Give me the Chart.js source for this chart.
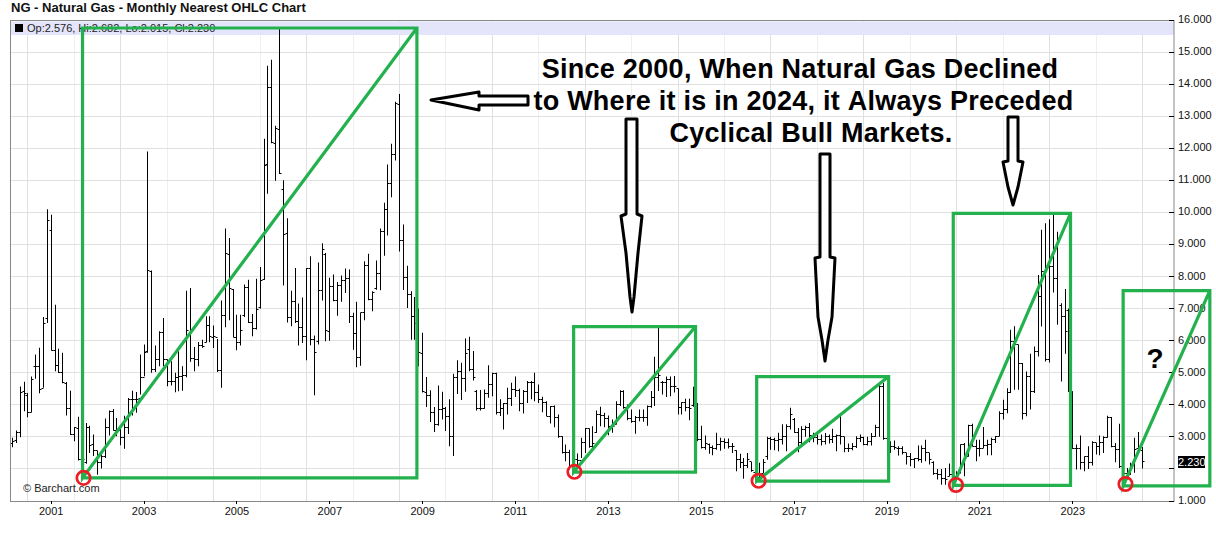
<!DOCTYPE html>
<html>
<head>
<meta charset="utf-8">
<title>NG - Natural Gas - Monthly Nearest OHLC Chart</title>
<script src="https://cdn.jsdelivr.net/npm/chart.js@4/dist/chart.umd.min.js"></script>
<style>
  html, body { margin: 0; padding: 0; background: #fff; }
  canvas { display: block; }
</style>
</head>
<body>
<canvas id="chart" width="1216" height="542"></canvas>
<script>
// monthly bars, index 0 = Mar 2000, last = Jul 2024
const highs = [
  2.97,3.2,4.57,4.72,4.37,4.88,5.57,5.78,6.74,10.1,
  9.93,7.12,5.75,5.62,4.71,4.44,3.3,3.63,2.55,3.43,3.35,3.07,
  2.57,2.52,3.57,3.82,3.87,3.59,3.36,3.66,4.21,4.44,4.4,5.57,
  5.88,11.9,8.19,5.85,6.29,6.71,5.41,5.36,5.0,5.67,5.2,7.56,
  7.64,5.8,5.96,6.03,6.76,6.76,6.47,6.05,7.25,9.5,9.2,7.61,
  6.81,6.81,7.75,7.9,6.83,7.93,8.3,12.3,14.57,14.76,12.7,15.75,
  11.0,9.82,7.56,8.27,7.16,7.35,8.27,8.63,6.16,8.44,9.04,8.73,
  7.96,8.06,7.83,8.03,8.25,8.22,6.87,7.21,6.87,8.48,8.71,7.54,
  8.5,9.5,10.3,11.49,12.14,13.45,13.69,9.62,8.34,7.54,7.36,7.0,
  6.25,4.87,4.45,3.93,4.6,4.41,3.93,4.17,4.97,5.39,5.31,6.07,
  6.12,5.68,4.46,4.46,4.48,5.23,5.0,5.0,4.17,4.06,4.53,4.69,
  4.88,4.5,4.46,4.74,4.74,5.0,4.63,4.25,4.11,3.96,3.98,3.7,
  3.02,2.76,2.6,2.3,2.48,2.97,3.28,3.26,3.33,3.82,3.94,3.75,
  3.67,3.54,4.11,4.45,4.45,4.01,3.85,3.65,3.85,3.85,3.98,4.43,
  5.5,6.41,4.74,4.88,4.88,4.9,4.5,4.08,4.19,4.19,4.56,4.06,
  3.35,3.04,2.79,2.73,3.13,2.97,2.95,2.95,2.81,2.58,2.47,2.34,
  2.5,2.22,1.96,2.19,2.31,3.0,3.0,2.97,3.13,3.39,3.39,3.91,
  3.59,3.28,3.33,3.35,3.43,3.13,3.12,3.07,3.12,3.07,3.25,3.07,
  3.64,3.0,2.79,2.81,3.02,3.07,3.0,3.0,3.12,3.38,4.7,4.68,
  2.94,2.86,2.89,2.71,2.71,2.5,2.5,2.34,2.73,2.73,2.91,2.5,
  2.24,2.0,2.0,2.03,2.17,1.95,1.93,2.76,2.81,3.38,3.41,2.91,
  2.91,3.31,2.91,2.97,3.02,3.8,4.16,4.52,6.34,6.45,5.87,5.3,
  5.04,5.59,5.82,8.05,9.46,9.66,9.79,9.92,9.4,7.17,7.61,7.0,
  4.42,2.76,3.04,2.39,2.71,2.86,2.81,3.04,3.02,3.66,3.62,2.81,
  3.41,2.15,2.03,2.19,2.97,3.15,2.682
];
const lows = [
  2.68,2.81,2.99,3.8,3.61,3.77,4.81,4.36,4.53,6.55,
  5.69,5.05,4.99,4.67,3.67,3.06,2.86,2.26,1.83,2.16,2.5,2.4,
  1.82,2.01,2.34,3.04,3.2,3.02,2.74,2.63,3.09,3.67,3.75,4.32,
  4.89,5.62,5.0,5.02,5.2,5.2,4.58,4.6,4.39,4.42,4.44,4.86,
  5.34,5.05,5.2,5.78,5.95,5.95,5.77,5.02,4.53,6.42,6.64,6.11,
  5.7,5.85,6.74,6.55,6.14,6.35,7.0,7.9,10.58,12.16,10.99,11.2,
  7.72,6.57,6.45,6.55,5.85,5.93,5.39,5.86,4.3,5.88,7.25,5.98,
  6.0,7.23,6.78,7.21,7.49,6.55,5.72,5.17,5.22,6.64,7.26,6.92,
  7.59,7.57,8.65,9.28,10.47,11.62,8.78,7.58,7.02,6.03,6.03,5.2,
  4.38,3.93,3.46,3.15,3.35,3.54,3.18,2.71,2.4,4.34,4.15,4.41,
  5.05,4.76,3.82,3.82,3.88,4.22,4.27,3.7,3.65,3.23,3.7,3.96,
  4.24,3.8,3.73,4.06,4.17,4.11,4.06,3.77,3.65,3.42,3.3,2.97,
  2.48,2.24,1.98,1.9,2.08,2.34,2.5,2.66,2.55,3.13,3.33,3.3,
  3.05,3.13,3.39,3.96,3.88,3.52,3.44,3.1,3.49,3.47,3.35,3.91,
  3.96,4.43,4.32,4.24,4.27,4.38,3.7,3.7,3.8,3.52,3.94,2.86,
  2.64,2.6,2.47,2.43,2.6,2.57,2.63,2.64,2.5,1.93,2.03,1.69,
  2.03,1.91,1.61,1.72,1.87,2.29,2.6,2.58,2.55,2.76,2.55,3.23,
  3.13,2.52,2.76,3.0,2.83,2.83,2.76,2.73,2.76,2.79,2.81,2.55,
  2.76,2.52,2.53,2.58,2.65,2.84,2.74,2.73,2.73,3.0,3.0,2.91,
  2.37,2.5,2.6,2.42,2.45,2.14,2.08,2.03,2.24,2.19,2.24,2.14,
  1.82,1.67,1.51,1.51,1.77,1.48,1.62,1.87,1.77,2.39,2.71,2.24,
  2.39,2.65,2.43,2.43,2.81,3.02,3.54,3.74,4.37,4.47,4.47,3.54,
  3.64,3.85,4.37,5.51,6.44,5.35,5.32,7.5,6.5,4.73,5.59,4.4,
  2.62,1.98,1.98,1.93,2.0,2.11,2.45,2.43,2.5,2.97,2.68,2.21,
  2.03,1.6,1.67,1.82,1.88,2.65,2.015
];
const opens = [
  2.78,2.88,3.15,4.4,4.3,3.77,5.18,5.2,4.5,6.7,
  9.45,5.69,5.23,5.02,4.67,3.9,3.08,3.25,2.3,2.2,3.3,2.75,
  2.58,2.2,2.4,3.3,3.8,3.2,3.2,2.97,3.3,4.16,4.16,4.2,
  4.84,5.65,8.15,5.1,5.41,6.26,5.41,4.73,4.73,4.84,4.89,4.91,
  6.2,5.44,5.41,5.85,5.95,6.48,6.1,6.1,5.07,6.8,8.7,7.6,
  6.1,5.95,6.8,7.65,6.57,6.37,7.02,7.9,11.5,13.9,12.16,12.6,
  10.7,9.33,6.71,7.21,6.6,6.4,6.12,8.24,6.05,5.98,7.56,8.7,
  6.3,7.68,7.26,7.73,7.88,7.93,6.76,6.21,5.46,6.87,8.35,7.28,
  7.62,8.08,9.4,10.08,10.91,11.8,13.35,9.12,7.96,7.44,6.76,6.55,
  5.6,4.38,4.29,3.77,3.39,3.85,3.89,3.65,3.0,4.86,5.05,4.82,
  5.73,5.1,4.4,3.87,3.9,4.35,4.63,4.98,3.77,3.87,4.04,4.2,
  4.48,4.46,4.04,4.41,4.71,4.69,4.37,4.17,4.06,3.65,3.94,3.59,
  3.0,2.5,2.5,2.12,2.28,2.27,2.81,3.25,2.69,3.15,3.7,3.68,
  3.56,3.33,3.4,4.01,4.43,3.91,3.56,3.49,3.6,3.6,3.6,3.96,
  4.24,4.84,4.7,4.69,4.79,4.58,4.5,3.91,4.06,3.91,3.98,3.98,
  2.92,2.66,2.75,2.66,2.64,2.76,2.86,2.83,2.71,2.58,2.29,2.2,
  2.11,2.22,1.9,1.72,1.87,2.4,2.95,2.92,2.9,2.92,3.02,3.33,
  3.55,3.13,2.81,3.23,3.28,3.04,2.98,2.91,2.86,3.0,2.91,3.0,
  3.04,3.0,2.65,2.65,2.7,2.96,2.97,2.76,2.86,3.0,3.3,4.58,
  2.94,2.52,2.71,2.65,2.65,2.5,2.39,2.29,2.31,2.29,2.65,2.5,
  2.2,1.87,1.82,1.69,1.77,1.82,1.75,1.87,2.76,2.39,3.36,2.71,
  2.65,2.65,2.73,2.76,2.91,3.02,3.74,3.85,4.39,5.98,5.87,5.3,
  3.74,4.89,4.4,5.67,7.38,8.16,5.41,8.31,7.93,7.1,6.76,6.95,
  4.4,2.65,2.65,2.19,2.39,2.19,2.81,2.7,2.81,2.97,3.59,2.7,
  2.6,2.08,1.86,1.82,2.14,2.65,2.576
];
const closes = [
  2.87,3.15,4.37,4.34,3.77,4.79,5.2,4.49,6.55,9.76,
  5.69,5.23,5.02,4.68,3.9,3.08,3.28,2.3,2.3,3.28,2.73,2.58,
  2.19,2.4,3.28,3.8,3.2,3.2,2.97,3.29,4.16,4.16,4.16,4.84,
  5.62,8.19,5.1,5.41,6.24,5.41,4.73,4.73,4.84,4.89,4.91,6.31,
  5.44,5.41,5.85,5.83,6.48,6.12,6.12,5.07,6.79,8.73,7.62,6.11,
  5.95,6.31,7.65,6.57,6.37,6.97,7.88,11.47,13.9,12.18,12.63,11.22,
  9.32,6.71,7.21,6.6,6.4,6.12,8.24,6.05,5.62,7.56,8.85,6.31,
  7.68,7.26,7.73,7.88,7.93,6.76,6.21,5.46,6.87,8.35,7.28,7.49,
  8.08,9.39,10.08,10.91,11.8,13.39,9.12,7.96,7.44,6.76,6.55,5.62,
  4.42,4.29,3.77,3.39,3.85,3.89,3.65,3.0,4.86,5.05,4.82,5.59,
  5.1,4.86,3.87,3.9,4.35,4.63,4.98,3.77,3.87,4.04,4.2,4.48,
  4.46,4.04,4.41,4.71,4.69,4.37,4.17,4.06,3.65,3.94,3.59,3.0,
  2.5,2.5,2.1,2.28,2.27,2.81,3.25,2.69,2.79,3.7,3.68,3.56,
  3.33,3.33,4.01,4.43,3.91,3.56,3.49,3.6,3.6,3.6,3.96,4.24,
  4.84,4.9,4.69,4.79,4.58,4.56,3.91,4.06,3.91,3.88,3.98,2.92,
  2.66,2.79,2.66,2.64,2.76,2.86,2.83,2.71,2.71,2.29,2.2,2.11,
  2.3,1.96,1.69,1.87,2.19,2.95,2.92,2.9,2.92,3.02,3.33,3.7,
  3.13,2.81,3.23,3.28,3.04,2.98,2.91,2.86,3.0,2.91,3.0,3.04,
  3.0,2.65,2.65,2.7,2.96,2.97,2.76,2.86,3.0,3.3,4.58,2.94,
  2.52,2.71,2.68,2.65,2.5,2.39,2.29,2.31,2.29,2.65,2.5,2.29,
  1.87,1.82,1.69,1.67,1.82,1.75,1.87,2.76,2.39,3.36,2.71,2.65,
  2.65,2.73,2.76,2.91,3.0,3.74,3.85,4.39,5.98,5.87,5.3,3.74,
  4.89,4.4,5.67,7.38,8.16,5.41,8.31,7.93,9.14,6.76,6.29,4.48,
  2.65,2.65,2.19,2.39,2.19,2.81,2.7,2.81,2.97,3.59,2.7,2.6,
  2.08,1.86,1.82,2.14,2.6,2.65,2.23
];

// January positions on the month index
const yearTicks = [10,22,34,46,58,70,82,94,106,118,130,142,154,166,178,190,202,214,226,238,250,262,274,286];
const yearLabels = ["2001","2002","2003","2004","2005","2006","2007","2008","2009","2010","2011","2012","2013","2014","2015","2016","2017","2018","2019","2020","2021","2022","2023","2024"];

// green boxes and red rings, in month index / price
const boxLeft = [18.1, 145, 192.3, 243.1, 287];
const boxRight = [104.5, 176.5, 226.4, 273.4, 309.4];
const boxLow = [1.72, 1.9, 1.62, 1.49, 1.47];
const boxHigh = [15.75, 6.44, 4.88, 9.97, 7.56];
const ringX = [18.35, 145.2, 192.8, 243.8, 287.6];
const ringY = [1.72, 1.91, 1.63, 1.5, 1.53];

const GREEN = "#22b14c";
const FONT = "'Liberation Sans', Arial, sans-serif";

const datasets = [];
ringX.forEach(function (x, i) {
  datasets.push({
    type: "scatter", data: [{ x: x, y: ringY[i] }], order: 0, clip: false,
    pointStyle: "circle", pointRadius: 6.7, pointBorderWidth: 2.7,
    pointBorderColor: "#ed1c24", pointBackgroundColor: "transparent"
  });
});
boxLeft.forEach(function (left, i) {
  const corners = [
    { x: left, y: boxLow[i] }, { x: boxRight[i], y: boxLow[i] }, { x: boxRight[i], y: boxHigh[i] },
    { x: left, y: boxHigh[i] }, { x: left, y: boxLow[i] }, { x: boxRight[i], y: boxHigh[i] }
  ];
  datasets.push({
    type: "line", data: corners, order: 1, clip: false,
    borderColor: GREEN, borderWidth: 3.2, borderJoinStyle: "miter", pointRadius: 0, tension: 0, fill: false
  });
});
datasets.push({
  type: "line", showLine: false, order: 2, snap: true,
  data: closes.map(function (v, i) { return { x: i, y: v }; }),
  pointStyle: "dash", pointRadius: 2, pointBorderWidth: 1, pointBorderColor: "#000"
});
datasets.push({
  type: "line", showLine: false, order: 2, snap: true,
  data: opens.map(function (v, i) { return { x: i, y: v }; }),
  pointStyle: "dash", pointRotation: 180, pointRadius: 2, pointBorderWidth: 1, pointBorderColor: "#000"
});
datasets.push({
  type: "bar", order: 3, snap: true, backgroundColor: "#000", barThickness: 1, inflateAmount: 0, borderWidth: 0,
  data: highs.map(function (v, i) { return { x: i, y: [lows[i], v] }; })
});

const headline = [
  { text: "Since 2000, When Natural Gas Declined", x: 800, y: 77.5 },
  { text: "to Where it is in 2024, it Always Preceded", x: 803.5, y: 109.5 },
  { text: "Cyclical Bull Markets.", x: 811, y: 141.5 }
];
const arrows = [
  [[431,100],[479,92],[479,96],[528,96],[528,105],[479,105],[479,110]],
  [[626,119],[637,119],[637,214],[642,216],[638,253],[634,297],[632,312],[630,297],[626,253],[621,216],[626,214]],
  [[820,154],[830,154],[830,257],[835,258],[832,317],[828,340],[825,361],[822,340],[818,317],[815,258],[820,257]],
  [[1008,117],[1018,117],[1018,161],[1023,162],[1018,187],[1013,205],[1008,187],[1003,162],[1008,161]]
];

const canvas = document.getElementById("chart");
canvas.getContext("2d", { alpha: false });

const overlay = {
  id: "overlay",
  afterDatasetsUpdate(chart) {
    // bars sit on whole pixels like the original
    chart.data.datasets.forEach(function (ds, i) {
      if (!ds.snap) return;
      chart.getDatasetMeta(i).data.forEach(function (el) {
        el.x = Math.round(el.x - 0.5) + 0.5;
        if (ds.type === "line") el.y = Math.round(el.y - 0.5) + 0.5;
      });
    });
  },
  beforeDraw(chart) {
    chart.ctx.fillStyle = "#fff";
    chart.ctx.fillRect(0, 0, chart.width, chart.height);
  },
  beforeDatasetsDraw(chart) {
    const ctx = chart.ctx;
    const a = chart.chartArea;
    ctx.save();
    ctx.fillStyle = "#e4e4fa";
    ctx.fillRect(a.left, a.top + 1.5, a.right - a.left, 13.5);
    ctx.fillStyle = "#000";
    ctx.fillRect(15, 24, 8, 8);
    ctx.font = "11px " + FONT;
    ctx.fillStyle = "#222";
    ctx.textBaseline = "middle";
    ctx.fillText("Op:2.576, Hi:2.682, Lo:2.015, Cl:2.230", 27, 28.5);
    ctx.fillText("© Barchart.com", 23, 488.5);
    ctx.strokeStyle = "#888";
    ctx.lineWidth = 1;
    ctx.strokeRect(a.left - 0.5, a.top + 0.5, a.right - a.left + 0.5, a.bottom - a.top);

    // short black ticks on the axes
    ctx.strokeStyle = "#000";
    ctx.beginPath();
    chart.scales.y.ticks.forEach(function (t) {
      const y = Math.round(chart.scales.y.getPixelForValue(t.value) - 0.5) + 0.5;
      ctx.moveTo(a.right - 5, y);
      ctx.lineTo(a.right, y);
    });
    yearTicks.forEach(function (v, i) {
      if (yearLabels[i] % 2 === 0) return;
      const x = Math.round(chart.scales.x.getPixelForValue(v) - 0.5) + 0.5;
      ctx.moveTo(x, a.bottom);
      ctx.lineTo(x, a.bottom + 3);
    });
    ctx.stroke();
    ctx.restore();
  },
  afterDatasetsDraw(chart) {
    const ctx = chart.ctx;
    ctx.save();
    ctx.lineWidth = 3;
    ctx.lineJoin = "round";
    ctx.strokeStyle = "#000";
    ctx.fillStyle = "#fff";
    arrows.forEach(function (pts) {
      ctx.beginPath();
      pts.forEach(function (p, i) { if (i === 0) ctx.moveTo(p[0], p[1]); else ctx.lineTo(p[0], p[1]); });
      ctx.closePath();
      ctx.fill();
      ctx.stroke();
    });
    ctx.fillStyle = "#000";
    ctx.font = "bold 27px " + FONT;
    ctx.letterSpacing = "0.25px";
    ctx.textAlign = "center";
    ctx.textBaseline = "alphabetic";
    headline.forEach(function (line) { ctx.fillText(line.text, line.x, line.y); });
    ctx.letterSpacing = "0px";
    ctx.font = "bold 28px " + FONT;
    ctx.fillText("?", 1155, 367.5);

    // last price tag
    const y = chart.scales.y.getPixelForValue(closes[closes.length - 1]);
    ctx.fillStyle = "#000";
    ctx.fillRect(1178, Math.round(y) - 6, 27, 12);
    ctx.fillStyle = "#fff";
    ctx.font = "11px " + FONT;
    ctx.textAlign = "left";
    ctx.textBaseline = "middle";
    ctx.fillText(closes[closes.length - 1].toFixed(3), 1178, Math.round(y) + 0.5);
    ctx.restore();
  }
};

new Chart(canvas, {
  data: { datasets: datasets },
  plugins: [overlay],
  options: {
    responsive: false,
    animation: false,
    devicePixelRatio: 1,
    layout: { padding: { left: 11, right: 0, top: 0, bottom: 0 } },
    plugins: {
      legend: { display: false },
      tooltip: { enabled: false },
      title: {
        display: true,
        text: "NG - Natural Gas - Monthly Nearest OHLC Chart",
        align: "start",
        color: "#111",
        font: { family: FONT, size: 13, weight: "bold", lineHeight: 1.2 },
        padding: { top: 1, bottom: 3.4 }
      }
    },
    scales: {
      x: {
        type: "linear",
        offset: false,
        min: -0.39,
        max: 300.14,
        afterBuildTicks: function (scale) {
          scale.ticks = yearTicks.map(function (v) { return { value: v }; });
        },
        afterFit: function (scale) { scale.height = 41; },
        grid: {
          tickLength: 0,
          color: function (c) {
            if (!c.tick) return "#e0e0e0";
            return yearLabels[yearTicks.indexOf(c.tick.value)] % 2 ? "#e0e0e0" : "#efefef";
          }
        },
        border: { display: false },
        ticks: {
          autoSkip: false,
          maxRotation: 0,
          padding: 4,
          color: "#111",
          font: { family: FONT, size: 11 },
          callback: function (v) {
            const label = yearLabels[yearTicks.indexOf(v)];
            return label % 2 ? label : "";
          }
        }
      },
      y: {
        position: "right",
        min: 1,
        max: 16,
        afterFit: function (scale) { scale.width = 42; },
        grid: { tickLength: 0, color: "#e0e0e0" },
        border: { display: false },
        ticks: {
          stepSize: 1,
          padding: 4,
          color: "#111",
          font: { family: FONT, size: 11 },
          callback: function (v) { return v === 2 ? "" : v.toFixed(3); }
        }
      }
    }
  }
});
</script>
</body>
</html>
